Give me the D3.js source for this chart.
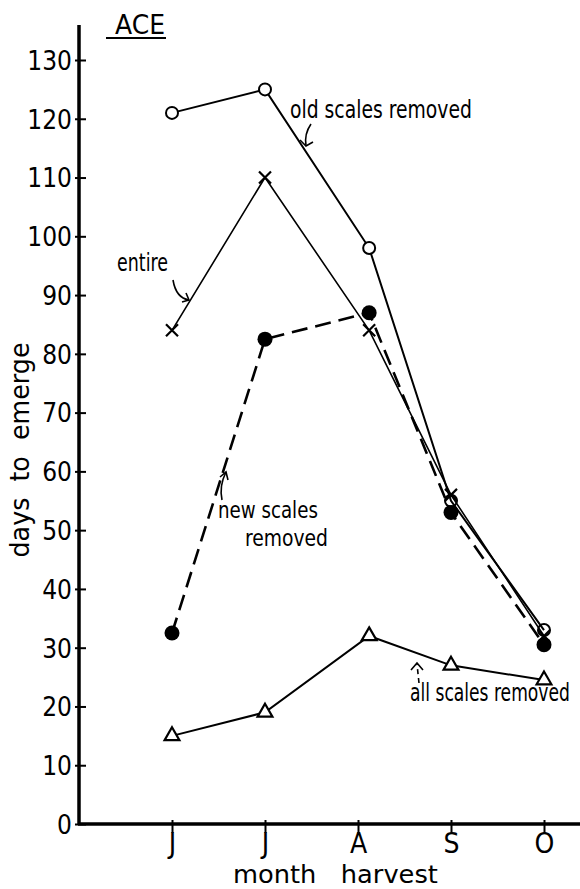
<!DOCTYPE html>
<html>
<head>
<meta charset="utf-8">
<script src="https://cdn.jsdelivr.net/npm/d3@7"></script>
<style>
  body { margin: 0; background: #fff; }
  text { font-family: "DejaVu Sans Condensed", "Liberation Sans Narrow", sans-serif; fill: #000; }
</style>
</head>
<body>
<div id="chart"></div>
<script>
// data
const months = ["J", "J", "A", "S", "O"];
const harvestPos = [0, 1, 2.12, 3, 4];   // points at A were drawn a bit right of the tick
const oldRemoved = [121, 125, 98, 55, 33];
const entire = [84, 110, 84, 56, 32];
const newRemoved = [32.5, 82.5, 87, 53, 30.5];
const allRemoved = [15, 19, 32, 27, 24.5];
const yTicks = [0, 10, 20, 30, 40, 50, 60, 70, 80, 90, 100, 110, 120, 130];

const width = 580, height = 889;
const axisX = 79, axisY = 824;

const svg = d3.select("#chart").append("svg")
    .attr("width", width)
    .attr("height", height);

const x = d3.scaleLinear().domain([0, 4]).range([172, 544]);
const y = d3.scaleLinear().domain([0, 130]).range([axisY, 60]);

// y axis
const yAxis = d3.axisLeft(y)
    .tickValues(yTicks)
    .tickSizeInner(-7)
    .tickSizeOuter(0)
    .tickPadding(7);

const gy = svg.append("g")
    .attr("transform", `translate(${axisX},0)`)
    .call(yAxis);
gy.select(".domain").remove();
gy.selectAll(".tick line").attr("x1", -4).attr("stroke", "#000").attr("stroke-width", 2);
gy.selectAll(".tick text")
    .attr("font-size", 26)
    .attr("dy", "0.36em")
    .style("font-family", "'DejaVu Sans Condensed', 'Liberation Sans Narrow', sans-serif");
gy.append("line")
    .attr("x1", 0).attr("x2", 0)
    .attr("y1", y(0) + 1).attr("y2", y(130) - 35)
    .attr("stroke", "#000").attr("stroke-width", 3.5);

// x axis
const xAxis = d3.axisBottom(x)
    .tickValues(harvestPos.map((d, i) => i))
    .tickFormat(i => months[i])
    .tickSizeInner(9)
    .tickSizeOuter(0);

const gx = svg.append("g")
    .attr("transform", `translate(0,${axisY})`)
    .call(xAxis);
gx.select(".domain").remove();
gx.selectAll(".tick line").attr("y1", -4).attr("stroke", "#000").attr("stroke-width", 2);
gx.selectAll(".tick text")
    .attr("y", 29).attr("dy", 0)
    .attr("font-size", 28)
    .style("font-family", "'DejaVu Sans Condensed', 'Liberation Sans Narrow', sans-serif");
gx.append("line")
    .attr("x1", axisX - 1).attr("x2", width)
    .attr("y1", 0).attr("y2", 0)
    .attr("stroke", "#000").attr("stroke-width", 3.5);

// text fitted to a given width (the original type is narrow)
function squeezed(tx, ty, str, len, size, rot) {
    const t = svg.append("text")
        .attr("font-size", size)
        .attr("xml:space", "preserve")
        .text(str);
    const w = t.node().getComputedTextLength();
    const k = len / w;
    if (rot) {
        t.attr("text-anchor", "middle")
         .attr("transform", `translate(${tx},${ty}) rotate(-90) scale(${k},1)`);
    } else {
        t.attr("transform", `translate(${tx},${ty}) scale(${k},1)`);
    }
    return t;
}

// axis titles
squeezed(233, 883, "month   harvest", 205, 25);
squeezed(29, 450, "days  to  emerge", 215, 26, true);

// title
squeezed(115, 34, "ACE", 50, 26);
svg.append("line")
    .attr("x1", 106).attr("x2", 166)
    .attr("y1", 38).attr("y2", 38)
    .attr("stroke", "#000").attr("stroke-width", 2);

// lines
const line = vals => d3.line()
    .x((d, i) => x(harvestPos[i]))
    .y(d => y(d))(vals);

svg.append("path").attr("d", line(oldRemoved))
    .attr("fill", "none").attr("stroke", "#000").attr("stroke-width", 2);
svg.append("path").attr("d", line(entire))
    .attr("fill", "none").attr("stroke", "#000").attr("stroke-width", 1.6);
svg.append("path").attr("d", line(newRemoved))
    .attr("fill", "none").attr("stroke", "#000").attr("stroke-width", 2.6)
    .attr("stroke-dasharray", "16,8");
svg.append("path").attr("d", line(allRemoved))
    .attr("fill", "none").attr("stroke", "#000").attr("stroke-width", 2);

// markers
svg.selectAll(".entire")
    .data(entire)
    .enter()
    .append("path")
    .attr("class", "entire")
    .attr("transform", (d, i) => `translate(${x(harvestPos[i])},${y(d)})`)
    .attr("d", "M-6,-6L6,6M-6,6L6,-6")
    .attr("stroke", "#000").attr("stroke-width", 2.2);

svg.selectAll(".newRemoved")
    .data(newRemoved)
    .enter()
    .append("circle")
    .attr("class", "newRemoved")
    .attr("cx", (d, i) => x(harvestPos[i]))
    .attr("cy", d => y(d))
    .attr("r", 7.5)
    .attr("fill", "#000");

svg.selectAll(".oldRemoved")
    .data(oldRemoved)
    .enter()
    .append("circle")
    .attr("class", "oldRemoved")
    .attr("cx", (d, i) => x(harvestPos[i]))
    .attr("cy", d => y(d))
    .attr("r", 6)
    .attr("fill", "#fff")
    .attr("fill-opacity", (d, i) => i >= 3 ? 0 : 1)
    .attr("stroke", "#000").attr("stroke-width", 2);

svg.selectAll(".allRemoved")
    .data(allRemoved)
    .enter()
    .append("path")
    .attr("class", "allRemoved")
    .attr("transform", (d, i) => `translate(${x(harvestPos[i])},${y(d)})`)
    .attr("d", d3.symbol(d3.symbolTriangle, 95))
    .attr("fill", "#fff")
    .attr("stroke", "#000").attr("stroke-width", 2.2);

// annotations
squeezed(290, 118, "old scales removed", 182, 25);
squeezed(117, 271, "entire", 51, 25);
squeezed(218, 518, "new scales", 100, 23);
squeezed(245, 546, "removed", 83, 23);
squeezed(410, 701, "all scales removed", 160, 24);

const arrow = (d, dash) => svg.append("path")
    .attr("d", d)
    .attr("fill", "none")
    .attr("stroke", "#000").attr("stroke-width", 1.6)
    .attr("stroke-dasharray", dash || null);

arrow("M311,124 Q304,134 306,146");
arrow("M300,140 L306,146 L313,142");
arrow("M173,280 Q176,298 189,300");
arrow("M182,302 L189,300 L186,293");
arrow("M222,500 Q219,486 226,472");
arrow("M220,477 L226,472 L228,480");
arrow("M419,683 L417,664", "5,4");
arrow("M411,670 L417,663 L423,670");
</script>
</body>
</html>
